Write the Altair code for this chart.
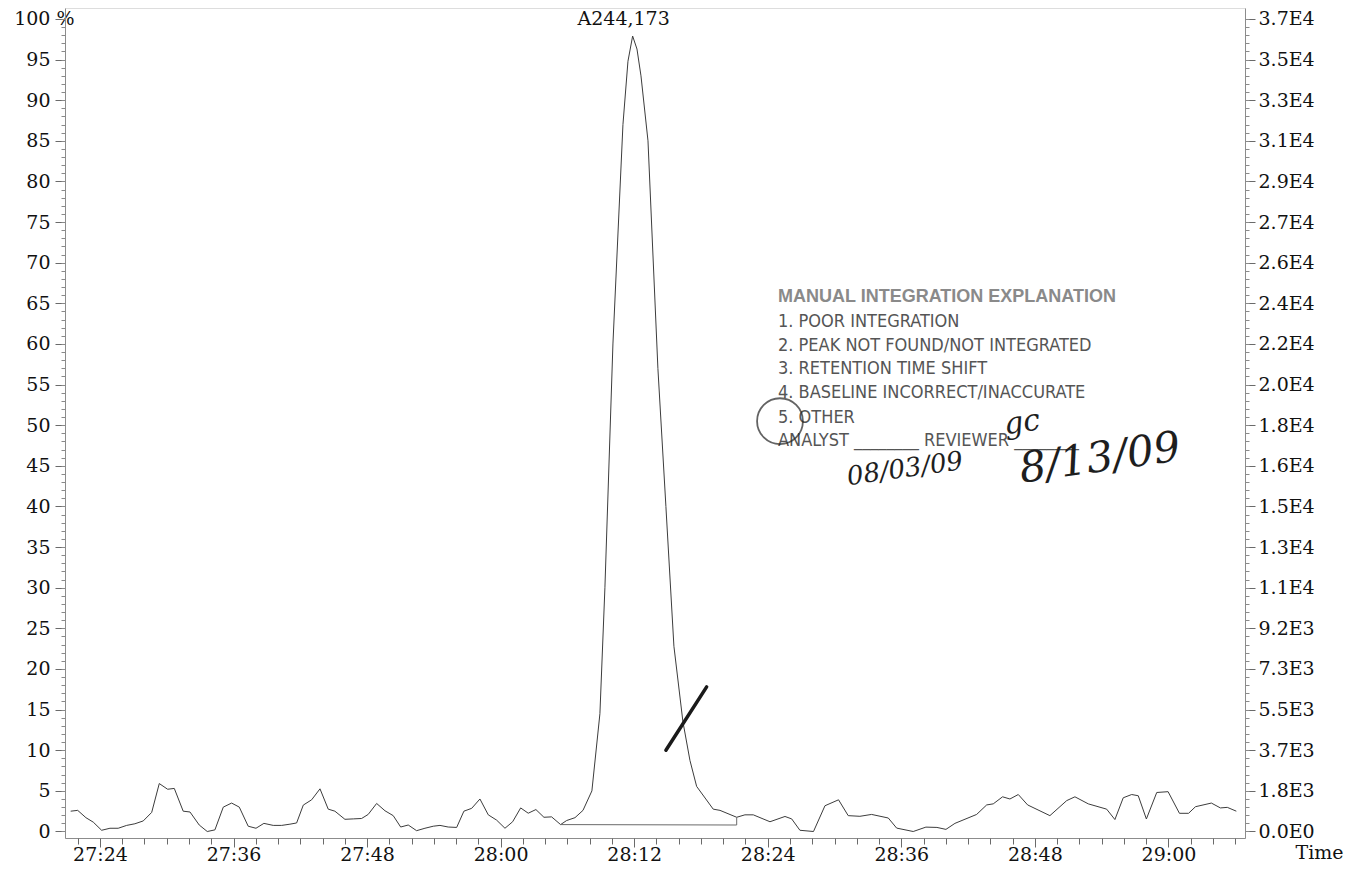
import altair as alt
import pandas as pd

# ---- data (time in seconds, intensity in %) ----
time_s = [1641.37, 1642.00, 1642.74, 1643.40, 1644.15, 1644.90, 1645.64, 1646.40, 1647.14, 1647.89,
          1648.65, 1649.33, 1650.08, 1650.68, 1651.48, 1652.09, 1652.92, 1653.64, 1654.33, 1655.08,
          1655.83, 1656.52, 1657.32, 1658.02, 1658.73, 1659.57, 1660.33, 1661.07, 1661.67, 1662.27,
          1663.02, 1663.77, 1664.51, 1665.11, 1666.01, 1666.76, 1667.51, 1668.10, 1668.86, 1669.61,
          1670.35, 1671.02, 1671.70, 1672.45, 1673.20, 1673.95, 1674.55, 1675.29, 1676.05, 1676.70,
          1677.40, 1678.14, 1678.89, 1679.64, 1680.39, 1681.08, 1681.80, 1682.48, 1683.17, 1683.89,
          1684.58, 1685.39, 1685.93, 1686.68, 1687.40, 1688.20, 1688.92, 1689.37, 1690.09, 1690.99,
          1691.44, 1691.86, 1692.25, 1692.61, 1693.24, 1694.13, 1694.85, 1695.57, 1696.38, 1697.01,
          1697.61, 1699.10, 1699.71, 1701.21, 1701.95, 1702.70, 1704.20, 1705.55, 1706.15, 1706.89,
          1708.11, 1709.14, 1710.36, 1711.23, 1712.28, 1713.33, 1714.83, 1715.58, 1717.07, 1718.21,
          1719.20, 1720.01, 1720.82, 1722.77, 1723.67, 1724.26, 1725.10, 1725.76, 1726.51, 1727.35,
          1729.35, 1730.86, 1731.60, 1732.80, 1734.45, 1735.19, 1735.94, 1736.70, 1737.29, 1738.02,
          1738.95, 1739.97, 1740.99, 1741.81, 1742.43, 1743.86, 1744.67, 1745.29, 1746.10]
intensity = [2.5, 2.6, 1.7, 1.15, 0.15, 0.4, 0.4, 0.75, 0.95, 1.3,
             2.35, 5.9, 5.2, 5.3, 2.5, 2.4, 0.8, 0.0, 0.2, 3.0,
             3.5, 3.0, 0.65, 0.4, 1.0, 0.75, 0.75, 0.9, 1.05, 3.25,
             3.9, 5.25, 2.75, 2.5, 1.5, 1.55, 1.6, 2.1, 3.45, 2.55,
             1.95, 0.55, 0.8, 0.1, 0.4, 0.65, 0.75, 0.55, 0.5, 2.5,
             2.85, 4.0, 2.05, 1.4, 0.4, 1.2, 2.9, 2.25, 2.7, 1.75,
             1.8, 0.85, 1.35, 1.7, 2.6, 5.0, 14.5, 30.0, 60.0, 87.0,
             94.8, 97.9, 96.3, 93.0, 85.0, 57.0, 40.0, 22.8, 13.5, 8.75,
             5.55, 2.75, 2.6, 1.75, 2.05, 2.05, 1.2, 1.85, 1.55, 0.15,
             0.0, 3.17, 3.9, 1.95, 1.87, 2.1, 1.66, 0.42, 0.0, 0.54,
             0.5, 0.26, 1.0, 2.1, 3.27, 3.4, 4.27, 4.0, 4.55, 3.27,
             1.95, 3.8, 4.27, 3.4, 2.75, 1.47, 4.15, 4.55, 4.4, 1.54,
             4.8, 4.9, 2.24, 2.24, 3.05, 3.5, 2.9, 2.97, 2.5]

# integration baseline under the peak
base_t = [1685.39, 1701.21]
base_v = [0.85, 0.80]
drop_t = [1701.21]
drop_v = [0.80]
drop_v2 = [1.75]

# axis ticks
x_major = [1644, 1656, 1668, 1680, 1692, 1704, 1716, 1728, 1740]
x_minor = list(range(1642, 1747, 2))
y_major = list(range(0, 101, 5))
y_minor = list(range(0, 101, 1))
right_labels = ["0.0E0", "1.8E3", "3.7E3", "5.5E3", "7.3E3", "9.2E3", "1.1E4", "1.3E4",
                "1.5E4", "1.6E4", "1.8E4", "2.0E4", "2.2E4", "2.4E4", "2.6E4", "2.7E4",
                "2.9E4", "3.1E4", "3.3E4", "3.5E4", "3.7E4"]

# peak annotation
peak_label = ["A244,173"]
peak_label_t = [1691.86]
peak_label_v = [100.0]

# stamp text
stamp_lines = ["MANUAL INTEGRATION EXPLANATION", "1. POOR INTEGRATION",
               "2. PEAK NOT FOUND/NOT INTEGRATED", "3. RETENTION TIME SHIFT",
               "4. BASELINE INCORRECT/INACCURATE", "5. OTHER",
               "ANALYST ________  REVIEWER ________"]
stamp_t = [1704.92] * 7
stamp_v = [65.78, 62.71, 59.75, 56.92, 53.97, 50.89, 48.06]

# handwriting
hand_text = ["gc", "8/13/09", "08/03/09"]
hand_t = [1726.84, 1733.85, 1716.33]
hand_v = [50.3, 45.9, 44.6]
hand_size = [30, 42, 26]

circle_t = [1705.10]
circle_v = [50.5]

slash_t = [1694.85]
slash_t2 = [1698.51]
slash_v = [10.0]
slash_v2 = [17.8]

X_DOMAIN = [1640.86, 1746.88]
Y_DOMAIN = [-0.80, 101.35]

SERIF = "DejaVu Serif"
xs = alt.Scale(domain=X_DOMAIN, nice=False, zero=False)
ys = alt.Scale(domain=Y_DOMAIN, nice=False, zero=False)

AX = dict(grid=False, domainColor="#8c8c8c", tickColor="#6a6a6a", labelFont=SERIF,
          labelFontSize=19, labelColor="#111111", labelFlush=False, labelOverlap=False)

x_label_expr = ("floor(datum.value/60) + ':' + (datum.value % 60 < 10 ? '0' : '') + "
                "(datum.value % 60)")
right_expr = "[" + ",".join("'%s'" % s for s in right_labels) + "][round(datum.value/5)]"

df = pd.DataFrame({"t": time_s, "v": intensity})
main = alt.Chart(df).mark_line(color="#3c3c3c", strokeWidth=1).encode(
    x=alt.X("t:Q", scale=xs, axis=alt.Axis(
        orient="bottom", values=x_major, labelExpr=x_label_expr, tickSize=9,
        labelPadding=-2, **AX,
        title="Time", titleFont=SERIF, titleFontSize=19, titleFontWeight="normal",
        titleColor="#111111", titleX=1254, titleY=14, titleAlign="center",
        titleBaseline="middle")),
    y=alt.Y("v:Q", scale=ys, axis=alt.Axis(
        orient="left", values=y_major, tickSize=10,
        labelExpr="datum.value == 100 ? '100 %' : datum.label",
        labelPadding={"condition": {"test": "datum.value == 100", "value": -19}, "value": 5},
        title=None, **AX)),
)

bdf = pd.DataFrame({"t": base_t, "v": base_v})
baseline = alt.Chart(bdf).mark_line(color="#6a6a6a", strokeWidth=1).encode(
    x=alt.X("t:Q", scale=xs, axis=alt.Axis(
        orient="bottom", values=x_minor, tickSize=6, labels=False, domain=False,
        grid=False, title=None, tickColor="#6a6a6a")),
    y=alt.Y("v:Q", scale=ys, axis=alt.Axis(
        orient="left", values=y_minor, tickSize=4, labels=False, domain=False,
        grid=False, title=None, tickColor="#8a8a8a")),
)

ddf = pd.DataFrame({"t": drop_t, "v": drop_v, "v2": drop_v2})
drop = alt.Chart(ddf).mark_rule(color="#6a6a6a", strokeWidth=1).encode(
    x=alt.X("t:Q", scale=xs, axis=None),
    y=alt.Y("v:Q", scale=ys, axis=alt.Axis(
        orient="right", values=y_major, tickSize=10, labelPadding=3,
        labelExpr=right_expr, title=None, **AX)),
    y2="v2:Q",
)

pdf = pd.DataFrame({"t": peak_label_t, "v": peak_label_v, "s": peak_label})
peak_txt = alt.Chart(pdf).mark_text(font=SERIF, fontSize=19, color="#111111",
                                    baseline="middle", dx=-9).encode(
    x=alt.X("t:Q", scale=xs, axis=None),
    y=alt.Y("v:Q", scale=ys, axis=alt.Axis(
        orient="right", values=y_minor, tickSize=4, labels=False, domain=False,
        grid=False, title=None, tickColor="#8a8a8a")),
    text="s:N",
)

sdf = pd.DataFrame({"t": stamp_t, "v": stamp_v, "s": stamp_lines,
                    "k": ["title"] + ["line"] * 6})
stamp_title = alt.Chart(sdf[sdf.k == "title"]).mark_text(
    font="Liberation Sans", fontSize=18, fontWeight="bold", color="#8a8a8a",
    align="left", baseline="middle").encode(
    x=alt.X("t:Q", scale=xs, axis=None), y=alt.Y("v:Q", scale=ys, axis=None), text="s:N")
stamp_body = alt.Chart(sdf[sdf.k == "line"]).mark_text(
    font="Liberation Sans Narrow, DejaVu Sans Condensed, sans-serif", fontSize=18,
    color="#555555", align="left", baseline="middle").encode(
    x=alt.X("t:Q", scale=xs, axis=None), y=alt.Y("v:Q", scale=ys, axis=None), text="s:N")

hdf = pd.DataFrame({"t": hand_t, "v": hand_v, "s": hand_text, "z": hand_size})
hand = alt.Chart(hdf).mark_text(font="DejaVu Serif", fontStyle="italic", color="#1e1e1e",
                                align="center", baseline="middle", angle=352).encode(
    x=alt.X("t:Q", scale=xs, axis=None), y=alt.Y("v:Q", scale=ys, axis=None), text="s:N",
    size=alt.Size("z:Q", scale=None, legend=None))

cdf = pd.DataFrame({"t": circle_t, "v": circle_v})
circle = alt.Chart(cdf).mark_point(shape="circle", size=2100, filled=False,
                                   color="#222222", strokeWidth=1.8).encode(
    x=alt.X("t:Q", scale=xs, axis=None), y=alt.Y("v:Q", scale=ys, axis=None))

ldf = pd.DataFrame({"t": slash_t, "t2": slash_t2, "v": slash_v, "v2": slash_v2})
slash = alt.Chart(ldf).mark_rule(color="#1a1a1a", strokeWidth=3.5, strokeCap="round").encode(
    x=alt.X("t:Q", scale=xs, axis=None), x2="t2:Q",
    y=alt.Y("v:Q", scale=ys, axis=None), y2="v2:Q")

chart = alt.layer(main, baseline, drop, peak_txt, stamp_title, stamp_body, hand, circle, slash
).resolve_axis(x="independent", y="independent").properties(
    width=1180, height=830,
    autosize=alt.AutoSizeParams(type="none"),
    padding={"left": 57, "top": 0, "right": 108, "bottom": 28},
).configure_view(stroke=None).configure(background="white")

chart.save("out.html", embed_options={"renderer": "svg", "actions": False})
